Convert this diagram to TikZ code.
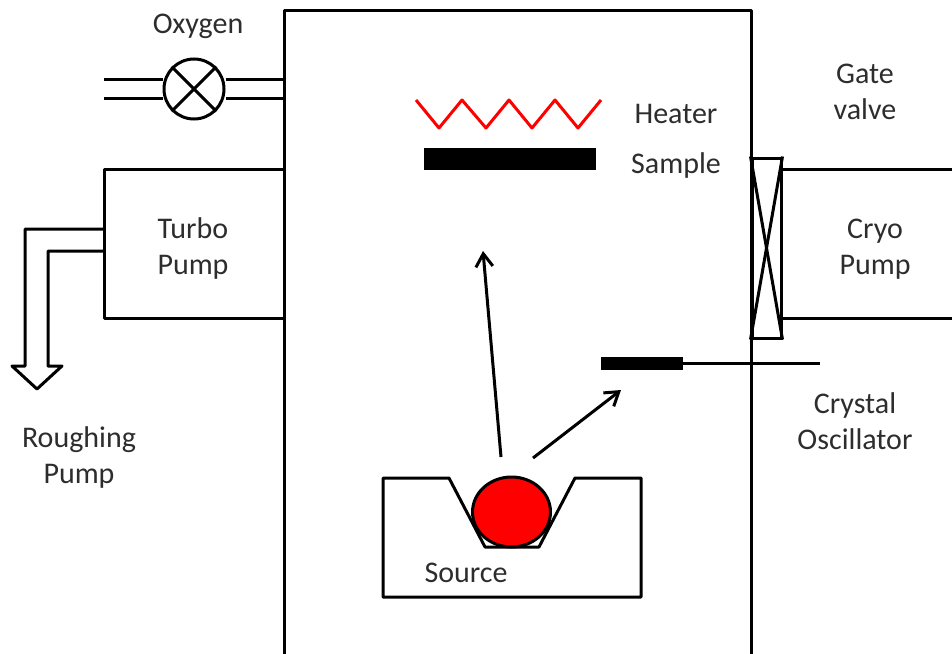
\documentclass[tikz,border=0pt]{standalone}
\usepackage{fontspec}
\setmainfont{Carlito}
\usetikzlibrary{arrows.meta,shapes.geometric}
\definecolor{txt}{RGB}{45,45,45}
\tikzset{
  wall/.style={draw=black,line width=3pt,line join=round},
  thin wall/.style={draw=black,line width=3pt,line join=round},
  lbl/.style={inner sep=0pt,text=txt,font=\fontsize{30}{36}\selectfont,anchor=base},
  flow/.style={draw=black,line width=3pt,-{Straight Barb[length=13pt,width=17pt,line width=3pt]}},
}
\begin{document}
\begin{tikzpicture}[x=1pt,y=-1pt]
\useasboundingbox (0,0) rectangle (952,653);
% chamber
\coordinate (chTL) at (284,10); \coordinate (chTR) at (751,10);
\coordinate (chBL) at (284,660); \coordinate (chBR) at (751,660);
\begin{scope}
\clip (0,0) rectangle (952,653);
\draw[wall] (chBL) -- (chTL) -- (chTR) -- (chBR);
\end{scope}
% oxygen valve
\node[circle,draw=black,line width=3pt,minimum size=60pt,inner sep=0pt] (valve) at (194,89) {};
\draw[thin wall] (valve.north west) -- (valve.south east);
\draw[thin wall] (valve.north east) -- (valve.south west);
\coordinate (oa) at (104,79); \coordinate (ob) at (104,98);
\coordinate (oc) at (284,79); \coordinate (od) at (284,98);
\draw[thin wall] (oa) -- (oa -| valve.west);
\draw[thin wall] (ob) -- (ob -| valve.west);
\draw[thin wall] (oc -| valve.east) -- (oc);
\draw[thin wall] (od -| valve.east) -- (od);
% turbo pump
\coordinate (ta) at (284,169); \coordinate (tb) at (104,169);
\coordinate (tc) at (104,318); \coordinate (td) at (284,318);
\draw[wall] (ta) -- (tb) -- (tc) -- (td);
% roughing line
\draw[wall] (104,229) -- (25,229) -- (25,366) -- (12,366) -- (37,389) -- (62,366) -- (48,366) -- (48,251) -- (104,251);
% gate valve
\node[draw=black,line width=3pt,minimum width=29pt,minimum height=180pt,inner sep=0pt] (gate) at (766.5,248) {};
\draw[thin wall] (gate.north west) -- (gate.south east);
\draw[thin wall] (gate.north east) -- (gate.south west);
% cryo pump
\coordinate (ca) at (781,169); \coordinate (cb) at (952,169);
\coordinate (cc) at (781,318); \coordinate (cd) at (952,318);
\draw[wall] (ca) -- (cb);
\draw[wall] (cc) -- (cd);
% heater
\draw[draw=red,line width=3pt,line join=round] (416,100) -- (439,128) -- (462,100) -- (486,128) -- (509,100) -- (532,128) -- (555,100) -- (578,128) -- (601,100);
% sample
\node[fill=black,minimum width=172pt,minimum height=22pt,inner sep=0pt] (sample) at (510,159) {};
% crystal
\node[fill=black,minimum width=82pt,minimum height=13pt,inner sep=0pt] (crystal) at (642,363.5) {};
\coordinate (ce) at (820,363.5);
\draw[draw=black,line width=2.5pt] (crystal.east) -- (ce);
% source
\draw[wall] (383,478) -- (449,478) -- (485,547) -- (539,547) -- (575,478) -- (641,478) -- (641,597) -- (383,597) -- cycle;
\node[ellipse,draw=black,fill=red,line width=3pt,minimum width=78pt,minimum height=70pt,inner sep=0pt] (ball) at (511.5,512) {};
% flux arrows
\coordinate (fa) at (501,457); \coordinate (fb) at (483,251);
\coordinate (fc) at (533,458); \coordinate (fd) at (621,390);
\draw[flow] (fa) -- (fb);
\draw[flow] (fc) -- (fd);
% labels
\node[lbl] (l1) at (198,33) {Oxygen};
\node[lbl] (l2) at (676,123) {Heater};
\node[lbl] (l3) at (676,173) {Sample};
\node[lbl] (l4) at (865,83) {Gate};
\node[lbl] (l5) at (865,119) {valve};
\node[lbl] (l6) at (193,238) {Turbo};
\node[lbl] (l7) at (193,274) {Pump};
\node[lbl] (l8) at (875,238) {Cryo};
\node[lbl] (l9) at (875,274) {Pump};
\node[lbl] (l10) at (855,413) {Crystal};
\node[lbl] (l11) at (855,449) {Oscillator};
\node[lbl] (l12) at (79,447) {Roughing};
\node[lbl] (l13) at (79,483) {Pump};
\node[lbl] (l14) at (466,582) {Source};
\end{tikzpicture}
\end{document}
